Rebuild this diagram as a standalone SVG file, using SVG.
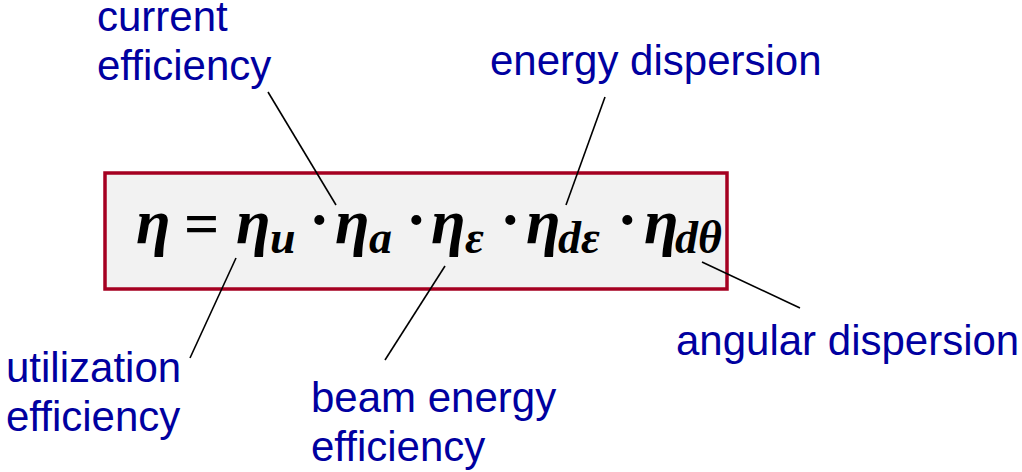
<svg xmlns="http://www.w3.org/2000/svg" width="1022" height="472" viewBox="0 0 1022 472">
<style>
.lbl{font-family:"Liberation Sans",Arial,sans-serif;font-size:42px;fill:#0000A0}
.m{font-family:"Liberation Serif","DejaVu Serif",serif;font-style:italic;font-weight:bold;fill:#000;font-size:63px}
.sub{font-size:46px}
.op{font-family:"Liberation Serif",serif;font-weight:bold;font-size:62px;fill:#000}
.ln{stroke:#000;stroke-width:1.6;fill:none}
</style>
<rect width="1022" height="472" fill="#fff"/>
<g id="formula">
<rect x="105" y="173" width="622" height="116" fill="#F2F2F2" stroke="#A50021" stroke-width="3.5"/>
<text class="m" x="136" y="243">η</text>
<text class="op" x="184" y="244">=</text>
<text class="m" x="236" y="243">η<tspan class="sub" x="270" y="253">u</tspan></text>
<text class="op" x="309" y="240">·</text>
<text class="m" x="335" y="243">η<tspan class="sub" x="369" y="253">a</tspan></text>
<text class="op" x="406" y="240">·</text>
<text class="m" x="431" y="243">η<tspan class="sub" x="465" y="253">ε</tspan></text>
<text class="op" x="500" y="240">·</text>
<text class="m" x="526" y="243">η<tspan class="sub" x="558" y="253">dε</tspan></text>
<text class="op" x="617" y="240">·</text>
<text class="m" x="644" y="243">η<tspan class="sub" x="675" y="253">dθ</tspan></text>
</g>
<g id="connectors">
<line class="ln" x1="268" y1="92" x2="336" y2="205"/>
<line class="ln" x1="605" y1="97" x2="566" y2="205"/>
<line class="ln" x1="236" y1="258" x2="190" y2="358"/>
<line class="ln" x1="445" y1="266" x2="385" y2="360"/>
<line class="ln" x1="702" y1="262" x2="800" y2="308"/>
</g>
<g id="label-current"><text class="lbl" x="97" y="31">current</text><text class="lbl" x="97" y="80">efficiency</text></g>
<g id="label-energy"><text class="lbl" x="490" y="75">energy dispersion</text></g>
<g id="label-util"><text class="lbl" x="6" y="382">utilization</text><text class="lbl" x="6" y="431">efficiency</text></g>
<g id="label-beam"><text class="lbl" x="311" y="412">beam energy</text><text class="lbl" x="311" y="461">efficiency</text></g>
<g id="label-angular"><text class="lbl" x="676" y="355">angular dispersion</text></g>
</svg>
